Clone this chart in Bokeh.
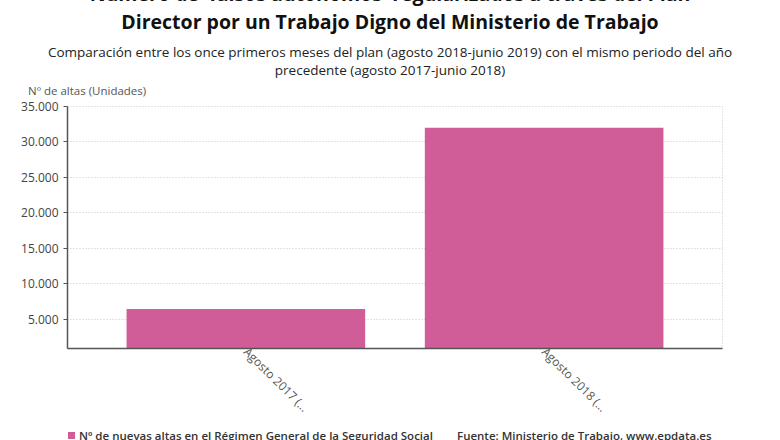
from bokeh.plotting import figure
from bokeh.layouts import column
from bokeh.models import FactorRange, Range1d, FixedTicker, ColumnDataSource, Div
from bokeh.embed import file_html
from bokeh.resources import INLINE

# ---- data ----
categories = ["Agosto 2017 (...", "Agosto 2018 (..."]
altas = [6450, 32000]
y_ticks = [5000, 10000, 15000, 20000, 25000, 30000, 35000]
y_tick_labels = ["5.000", "10.000", "15.000", "20.000", "25.000", "30.000", "35.000"]

title_lines = ["Número de 'falsos autónomos' regularizados a través del Plan",
               "Director por un Trabajo Digno del Ministerio de Trabajo"]
subtitle_lines = ["Comparación entre los once primeros meses del plan (agosto 2018-junio 2019) con el mismo periodo del año",
                  "precedente (agosto 2017-junio 2018)"]
y_label = "Nº de altas (Unidades)"
series_name = "Nº de nuevas altas en el Régimen General de la Seguridad Social"
source_text = "Fuente: Ministerio de Trabajo, www.epdata.es"

FONT = "Open Sans"
BAR = "#d05c98"
W = 780
HEAD_H = 98
FOOT_H = 12
MAIN_H = 440 - HEAD_H - FOOT_H


def line(text, yc, size, weight, color, h, left=None):
    if left is None:
        pos = "left:0;width:%dpx;text-align:center;" % W
    else:
        pos = "left:%dpx;text-align:left;" % left
    return ('<div style="position:absolute;%stop:%.1fpx;height:%dpx;line-height:%dpx;'
            'font-size:%spx;font-weight:%s;color:%s;white-space:nowrap;">%s</div>'
            % (pos, yc - h / 2, h, h, size, weight, color, text))


def box(h, inner):
    return ('<div style="position:relative;width:%dpx;height:%dpx;overflow:hidden;margin:0;'
            'padding:0;font-family:\'Open Sans\';">%s</div>' % (W, h, inner))


# ---- header ----
header_html = box(HEAD_H,
                  line(title_lines[0], -6, 19.5, 700, "#111111", 28)
                  + line(title_lines[1], 22, 19.5, 700, "#111111", 28)
                  + line(subtitle_lines[0], 52, 13.5, 400, "#222222", 20)
                  + line(subtitle_lines[1], 70, 13.5, 400, "#222222", 20)
                  + line(y_label, 91, 11.5, 400, "#555555", 18, left=28))
head = Div(text=header_html, width=W, height=HEAD_H, margin=0)

# ---- main chart ----
src = ColumnDataSource(dict(cat=categories, val=altas))

p = figure(width=W, height=MAIN_H, output_backend="svg", toolbar_location=None,
           x_range=FactorRange(factors=categories, range_padding=0.098),
           y_range=Range1d(900, 35000),
           min_border_left=67, min_border_right=58, min_border_top=8,
           min_border_bottom=MAIN_H - 8 - 242)
p.title.visible = False
p.background_fill_color = "white"
p.border_fill_color = "white"
p.outline_line_color = "#c8c8c8"
p.outline_line_dash = "1 2"
p.margin = 0

r = p.vbar(x="cat", top="val", bottom=0, width=0.8, source=src,
           fill_color=BAR, line_color=None)

p.xgrid.grid_line_color = None
p.ygrid.grid_line_color = "#c8c8c8"
p.ygrid.grid_line_dash = "1 2"
p.ygrid.ticker = FixedTicker(ticks=y_ticks)

ya = p.yaxis[0]
ya.ticker = FixedTicker(ticks=y_ticks)
ya.major_label_overrides = {t: l for t, l in zip(y_ticks, y_tick_labels)}
ya.axis_line_color = "#555555"
ya.axis_line_width = 1.5
ya.major_tick_line_color = "#555555"
ya.major_tick_out = 4
ya.major_tick_in = 0
ya.minor_tick_line_color = None
ya.major_label_text_font = FONT
ya.major_label_text_font_size = "12px"
ya.major_label_text_color = "#444444"
ya.major_label_standoff = 5

xa = p.xaxis[0]
xa.axis_line_color = "#555555"
xa.axis_line_width = 1.5
xa.major_tick_line_color = None
xa.major_tick_out = 0
xa.major_tick_in = 0
xa.minor_tick_line_color = None
xa.major_label_orientation = -0.78
xa.major_label_text_font = FONT
xa.major_label_text_font_size = "12px"
xa.major_label_text_color = "#555555"
xa.major_label_standoff = 1

# ---- footer: legend + source ----
legend_html = (
    '<div style="position:absolute;left:68px;top:4px;width:7px;height:7px;background:%s;"></div>'
    % BAR
    + line(series_name, 7.5, 11.5, 600, "#333333", 16, left=79)
    + line(source_text, 7.5, 11.5, 600, "#333333", 16, left=457)
)
foot = Div(text=box(FOOT_H, legend_html), width=W, height=FOOT_H, margin=0)

layout = column(head, p, foot, spacing=0)
open("out.html", "w").write(file_html(layout, INLINE))
